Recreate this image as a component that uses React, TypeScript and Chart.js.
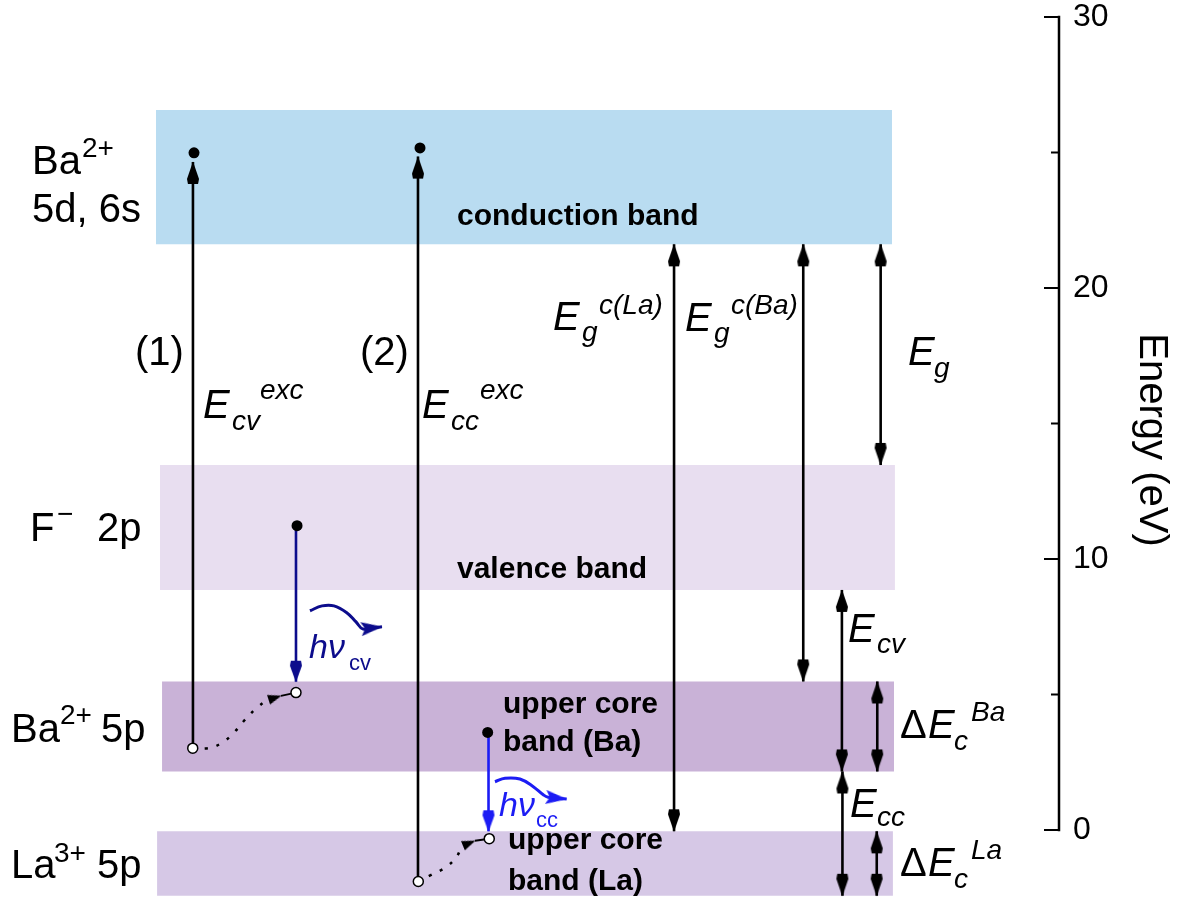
import { useEffect, useRef } from 'react';
import { Chart, registerables } from 'chart.js';

Chart.register(...registerables);

// ---------------- data (x in diagram units 0–100, energies in eV) ----------------

// Energy bands
const BAND_LABELS = ['conduction band', 'valence band', 'upper core band (Ba)', 'upper core band (La)'];
const BAND_X_FROM = [14.73, 15.11, 15.3, 14.83];
const BAND_X_TO = [84.23, 84.51, 84.42, 84.32];
const BAND_E_BOTTOM = [21.61, 8.86, 2.16, -2.43];
const BAND_E_TOP = [26.57, 13.47, 5.48, -0.05];

// Vertical transitions and energy gaps
const ARROW_NAMES = ['Ecv exc', 'Ecc exc', 'hv cv', 'hv cc', 'Eg c(La)', 'Eg c(Ba)', 'Eg', 'Ecv', 'dEc Ba', 'Ecc', 'dEc La'];
const ARROW_X = [18.22, 39.47, 27.95, 46.13, 63.65, 75.85, 83.16, 79.5, 82.84, 79.55, 82.79];
const ARROW_E_FROM = [3.03, -1.9, 11.23, 3.6, -0.05, 5.48, 13.47, 2.16, 2.16, -2.43, -2.43];
const ARROW_E_TO = [24.65, 24.85, 5.47, -0.05, 21.61, 21.61, 21.61, 8.86, 5.48, 2.16, -0.05];
const ARROW_DOUBLE = [false, false, false, false, true, true, true, true, true, true, true];

// Electrons (filled) and holes (open)
const ELECTRON_X = [18.32, 39.66, 28.05, 46.05];
const ELECTRON_E = [24.99, 25.17, 11.23, 3.6];
const HOLE_X = [18.2, 27.95, 39.5, 46.2];
const HOLE_E = [3.02, 5.07, -1.9, -0.32];

// Hole relaxation paths
const HOP1_X = [18.22, 19.67, 20.93, 22.03, 23.14, 24.24, 25.31, 26.53];
const HOP1_E = [3.03, 3.02, 3.21, 3.57, 4.07, 4.5, 4.8, 4.95];
const HOP2_X = [39.5, 40.76, 42.18, 43.13, 43.72, 44.85];
const HOP2_E = [-1.9, -1.65, -1.35, -0.98, -0.58, -0.4];

// Emitted photons
const WAVE_CV_X = [29.27, 30.41, 31.54, 32.77, 33.62, 34.28, 36.07];
const WAVE_CV_E = [8.09, 8.27, 8.27, 8.01, 7.68, 7.42, 7.5];
const WAVE_CC_X = [46.74, 47.69, 49.1, 50.36, 51.3, 51.75, 53.51];
const WAVE_CC_E = [1.78, 1.91, 1.88, 1.6, 1.3, 1.21, 1.14];

// Energy axis
const AXIS_TICKS = [0, 10, 20, 30];
const AXIS_MINOR = [5, 15, 25];
const AXIS_TITLE = 'Energy (eV)';

// ---------------- styles ----------------
const FAMILY = '"Liberation Sans", Arial, sans-serif';
const BAND_COLORS = ['#b9dcf1', '#e8def0', '#c9b2d7', '#d6c8e6'];
const NAVY = '#0c0c8c';
const BLUE = '#1c1cf4';
const ARROW_COLORS = ARROW_NAMES.map((n) => (n === 'hv cv' ? NAVY : n === 'hv cc' ? BLUE : '#000'));

const FONTS: Record<string, string> = {
  n40: `40px ${FAMILY}`,
  n28: `28px ${FAMILY}`,
  i40: `italic 40px ${FAMILY}`,
  i28: `italic 28px ${FAMILY}`,
  b30: `bold 30px ${FAMILY}`,
  i34: `italic 34px ${FAMILY}`,
  n22: `22px ${FAMILY}`,
};

// text runs: [text, x, baseline, font, colour]
const LABEL_RUNS: [string, number, number, string, string?][] = [
  ['Ba', 32, 174, 'n40'], ['2+', 82, 157, 'n28'],
  ['5d, 6s', 32, 222, 'n40'],
  ['F', 30, 541, 'n40'], ['\u2212', 57, 523, 'n28'], ['2p', 97, 541, 'n40'],
  ['Ba', 11, 742, 'n40'], ['2+', 60, 724, 'n28'], ['5p', 101, 742, 'n40'],
  ['La', 11, 878, 'n40'], ['3+', 54, 862, 'n28'], ['5p', 97, 878, 'n40'],
  ['(1)', 135, 365, 'n40'], ['(2)', 360, 365, 'n40'],
  ['E', 203, 418, 'i40'], ['cv', 232, 430, 'i28'], ['exc', 260, 399, 'i28'],
  ['E', 422, 418, 'i40'], ['cc', 451, 430, 'i28'], ['exc', 480, 399, 'i28'],
  ['E', 553, 330, 'i40'], ['g', 582, 341, 'i28'], ['c(La)', 599, 314, 'i28'],
  ['E', 685, 331, 'i40'], ['g', 714, 342, 'i28'], ['c(Ba)', 731, 314, 'i28'],
  ['E', 908, 365, 'i40'], ['g', 934, 377, 'i28'],
  ['E', 848, 642, 'i40'], ['cv', 877, 653, 'i28'],
  ['\u0394', 900, 738, 'n40'], ['E', 928, 738, 'i40'], ['c', 954, 750, 'i28'], ['Ba', 971, 721, 'i28'],
  ['E', 850, 817, 'i40'], ['cc', 877, 826, 'i28'],
  ['\u0394', 900, 876, 'n40'], ['E', 928, 876, 'i40'], ['c', 954, 888, 'i28'], ['La', 971, 859, 'i28'],
  ['conduction band', 457, 225, 'b30'],
  ['valence band', 457, 578, 'b30'],
  ['upper core', 503, 713, 'b30'], ['band (Ba)', 503, 751, 'b30'],
  ['upper core', 508, 849, 'b30'], ['band (La)', 508, 890, 'b30'],
  ['h\u03bd', 309, 658, 'i34', NAVY], ['cv', 349, 670, 'n22', NAVY],
  ['h\u03bd', 499, 816, 'i34', BLUE], ['cc', 536, 827, 'n22', BLUE],
];

// Arrowhead sprite: tip at the sprite centre, pointing up, body trailing downwards
function makeHead(len: number, wid: number, neck: number, color: string, notch = 0) {
  const size = Math.ceil(2 * len + 6);
  const c = document.createElement('canvas');
  c.width = size;
  c.height = size;
  const g = c.getContext('2d')!;
  const cx = size / 2;
  const cy = size / 2;
  g.fillStyle = color;
  g.beginPath();
  g.moveTo(cx, cy - 0.5);
  if (neck > 0) {
    g.lineTo(cx + wid / 2, cy + len - neck);
    g.lineTo(cx + wid * 0.42, cy + len);
    g.lineTo(cx - wid * 0.42, cy + len);
    g.lineTo(cx - wid / 2, cy + len - neck);
  } else {
    g.lineTo(cx + wid / 2, cy + len);
    g.lineTo(cx, cy + len - notch);
    g.lineTo(cx - wid / 2, cy + len);
  }
  g.closePath();
  g.fill();
  return c;
}

const pts = (xs: number[], es: number[]) => xs.map((x, i) => ({ x, y: es[i] }));

// rotation (deg) of a head placed on the last point, following the last segment on screen
const tipAngle = (xs: number[], es: number[]) => (c: any) => {
  const sx = c.chart.scales.x;
  const sy = c.chart.scales.y;
  const n = xs.length;
  const dx = sx.getPixelForValue(xs[n - 1]) - sx.getPixelForValue(xs[n - 2]);
  const dy = sy.getPixelForValue(es[n - 1]) - sy.getPixelForValue(es[n - 2]);
  return (Math.atan2(dy, dx) * 180) / Math.PI + 90;
};

const overlayPlugin = {
  id: 'diagramOverlay',
  afterDatasetsDraw(chart: any) {
    const ctx = chart.ctx;
    const y = chart.scales.y;
    const ax = y.left;
    ctx.save();
    // energy axis line with inward ticks
    ctx.strokeStyle = '#000';
    ctx.lineWidth = 2.5;
    ctx.lineCap = 'square';
    ctx.beginPath();
    ctx.moveTo(ax, y.getPixelForValue(AXIS_TICKS[0]));
    ctx.lineTo(ax, y.getPixelForValue(AXIS_TICKS[AXIS_TICKS.length - 1]));
    ctx.stroke();
    ctx.lineCap = 'butt';
    ctx.lineWidth = 2;
    AXIS_TICKS.forEach((v) => {
      const py = y.getPixelForValue(v);
      ctx.beginPath();
      ctx.moveTo(ax - 15, py);
      ctx.lineTo(ax, py);
      ctx.stroke();
    });
    AXIS_MINOR.forEach((v) => {
      const py = y.getPixelForValue(v);
      ctx.beginPath();
      ctx.moveTo(ax - 8, py);
      ctx.lineTo(ax, py);
      ctx.stroke();
    });

    // labels
    ctx.textAlign = 'left';
    ctx.textBaseline = 'alphabetic';
    LABEL_RUNS.forEach(([t, x, b, f, col]) => {
      ctx.font = FONTS[f];
      ctx.fillStyle = col || '#000';
      ctx.fillText(t, x, b);
    });

    // axis title, reading top to bottom
    ctx.font = FONTS.n40;
    ctx.fillStyle = '#000';
    ctx.translate(1140, 440);
    ctx.rotate(Math.PI / 2);
    ctx.textAlign = 'center';
    ctx.fillText(AXIS_TITLE, 0, 0);
    ctx.restore();
  },
};

export default function App() {
  const ref = useRef<HTMLCanvasElement>(null);

  useEffect(() => {
    const canvas = ref.current;
    if (!canvas) return;

    const heads: Record<string, HTMLCanvasElement> = {
      black: makeHead(22, 12, 5, '#000'),
      navy: makeHead(21, 12, 5, NAVY),
      blue: makeHead(21, 12, 5, BLUE),
      hop: makeHead(13, 10, 0, '#000'),
      waveNavy: makeHead(21, 14, 0, NAVY, 4),
      waveBlue: makeHead(21, 14, 0, BLUE, 4),
    };
    const headFor = (color: string) => (color === NAVY ? heads.navy : color === BLUE ? heads.blue : heads.black);

    const datasets: any[] = [];

    BAND_LABELS.forEach((name, i) => {
      datasets.push({
        label: name,
        data: [
          { x: BAND_X_FROM[i], y: BAND_E_TOP[i] },
          { x: BAND_X_TO[i], y: BAND_E_TOP[i] },
        ],
        showLine: true,
        borderColor: 'rgba(0,0,0,0)',
        borderWidth: 0,
        pointRadius: 0,
        backgroundColor: BAND_COLORS[i],
        fill: { value: BAND_E_BOTTOM[i] },
        order: 6,
      });
    });

    ARROW_X.forEach((x, i) => {
      const up = ARROW_E_TO[i] > ARROW_E_FROM[i];
      datasets.push({
        label: ARROW_NAMES[i],
        data: [
          { x, y: ARROW_E_FROM[i] },
          { x, y: ARROW_E_TO[i] },
        ],
        showLine: true,
        borderColor: ARROW_COLORS[i],
        borderWidth: 2.6,
        pointStyle: headFor(ARROW_COLORS[i]),
        pointRadius: [ARROW_DOUBLE[i] ? 4 : 0, 4],
        pointRotation: [up ? 180 : 0, up ? 0 : 180],
        order: 3,
      });
    });

    // hole relaxation (dotted) with small head, then short solid tail to the hole
    [
      [HOP1_X, HOP1_E, 1],
      [HOP2_X, HOP2_E, 3],
    ].forEach(([xs, es, hole]: any) => {
      const n = xs.length;
      datasets.push({
        label: 'hop',
        data: pts(xs, es),
        showLine: true,
        borderColor: '#000',
        borderWidth: 2.5,
        borderDash: [3, 9],
        tension: 0.4,
        pointStyle: heads.hop,
        pointRadius: xs.map((_: number, k: number) => (k === n - 1 ? 4 : 0)),
        pointRotation: tipAngle(xs, es),
        order: 3,
      });
      datasets.push({
        label: 'hop tail',
        data: [
          { x: xs[n - 1], y: es[n - 1] },
          { x: HOLE_X[hole], y: HOLE_E[hole] },
        ],
        showLine: true,
        borderColor: '#000',
        borderWidth: 2,
        pointRadius: 0,
        order: 3,
      });
    });

    // photons
    [
      [WAVE_CV_X, WAVE_CV_E, NAVY, heads.waveNavy],
      [WAVE_CC_X, WAVE_CC_E, BLUE, heads.waveBlue],
    ].forEach(([xs, es, col, head]: any) => {
      const n = xs.length;
      datasets.push({
        label: 'photon',
        data: pts(xs, es),
        showLine: true,
        borderColor: col,
        borderWidth: 3,
        tension: 0.4,
        pointStyle: head,
        pointRadius: xs.map((_: number, k: number) => (k === n - 1 ? 4 : 0)),
        pointRotation: tipAngle(xs, es),
        order: 3,
      });
    });

    datasets.push({
      label: 'electrons',
      data: pts(ELECTRON_X, ELECTRON_E),
      showLine: false,
      pointStyle: 'circle',
      pointRadius: 5.5,
      pointBackgroundColor: '#000',
      pointBorderColor: '#000',
      pointBorderWidth: 0,
      order: 1,
    });
    datasets.push({
      label: 'holes',
      data: pts(HOLE_X, HOLE_E),
      showLine: false,
      pointStyle: 'circle',
      pointRadius: 5,
      pointBackgroundColor: '#fff',
      pointBorderColor: '#000',
      pointBorderWidth: 1.5,
      order: 1,
    });

    const chart = new Chart(canvas, {
      type: 'scatter',
      data: { datasets },
      options: {
        animation: false,
        responsive: true,
        maintainAspectRatio: false,
        events: [],
        layout: { autoPadding: false, padding: { top: 17, bottom: 1.25, left: 0, right: 0 } },
        plugins: {
          legend: { display: false },
          tooltip: { enabled: false },
        },
        scales: {
          x: { type: 'linear', min: 0, max: 100, display: false },
          y: {
            type: 'linear',
            position: 'right',
            min: -2.5,
            max: 30,
            afterBuildTicks: (s: any) => {
              s.ticks = AXIS_TICKS.map((v) => ({ value: v }));
            },
            afterFit: (s: any) => {
              s.width = 118;
              s.paddingTop = 0;
              s.paddingBottom = 0;
            },
            border: { display: false },
            grid: { display: false, drawTicks: false },
            ticks: {
              autoSkip: false,
              padding: 14,
              color: '#000',
              font: { family: FAMILY, size: 32, lineHeight: 1 },
            },
          },
        },
      },
      plugins: [overlayPlugin],
    } as any);

    return () => chart.destroy();
  }, []);

  return (
    <div style={{ position: 'absolute', left: 0, top: 0, width: 1177, height: 899, background: '#fff' }}>
      <canvas ref={ref} />
    </div>
  );
}
